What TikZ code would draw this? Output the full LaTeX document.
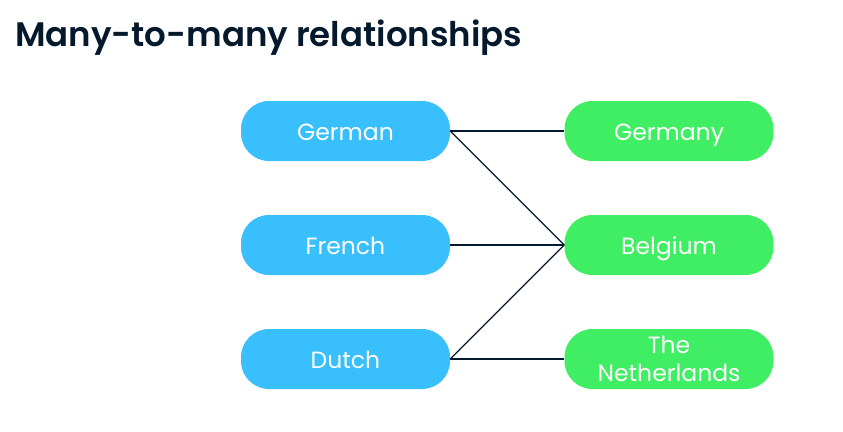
\documentclass[tikz,border=0pt]{standalone}
\usepackage{fontspec}
\setmainfont{Poppins}
\newfontfamily\titlefont{Poppins}[UprightFont={* SemiBold}]
\definecolor{navy}{HTML}{05192D}
\definecolor{pblue}{HTML}{38BFFC}
\definecolor{pgreen}{HTML}{40EE64}
\tikzset{
  pill/.style={rounded corners=28pt, minimum width=209pt, minimum height=60pt,
    inner sep=0pt, text=white, font=\fontsize{23.5}{28.5}\selectfont, align=center},
  onel/.style={text height=18pt, text depth=0pt},
  lang/.style={pill, fill=pblue, onel},
  country/.style={pill, fill=pgreen},
  link/.style={draw=navy, line width=1.3pt}
}
\begin{document}
\begin{tikzpicture}[x=1pt,y=-1pt]
\useasboundingbox (0,0) rectangle (843,431);
\node[anchor=base west, text=navy, font=\fontsize{34}{40}\titlefont, inner sep=0pt] (title) at (15,46.5) {Many-to-many relationships};
\node[lang] (german) at (345.5,131) {German};
\node[lang] (french) at (345.5,245) {French};
\node[lang] (dutch) at (345.5,359) {Dutch};
\node[country, onel] (germany) at (669,131) {Germany};
\node[country, onel] (belgium) at (669,245) {Belgium};
\node[country] (nl) at (669,359) {The\\Netherlands};
\draw[link] (german.east) -- (germany.west);
\draw[link] (german.east) -- (belgium.west);
\draw[link] (french.east) -- (belgium.west);
\draw[link] (dutch.east) -- (belgium.west);
\draw[link] (dutch.east) -- (nl.west);
\end{tikzpicture}
\end{document}
